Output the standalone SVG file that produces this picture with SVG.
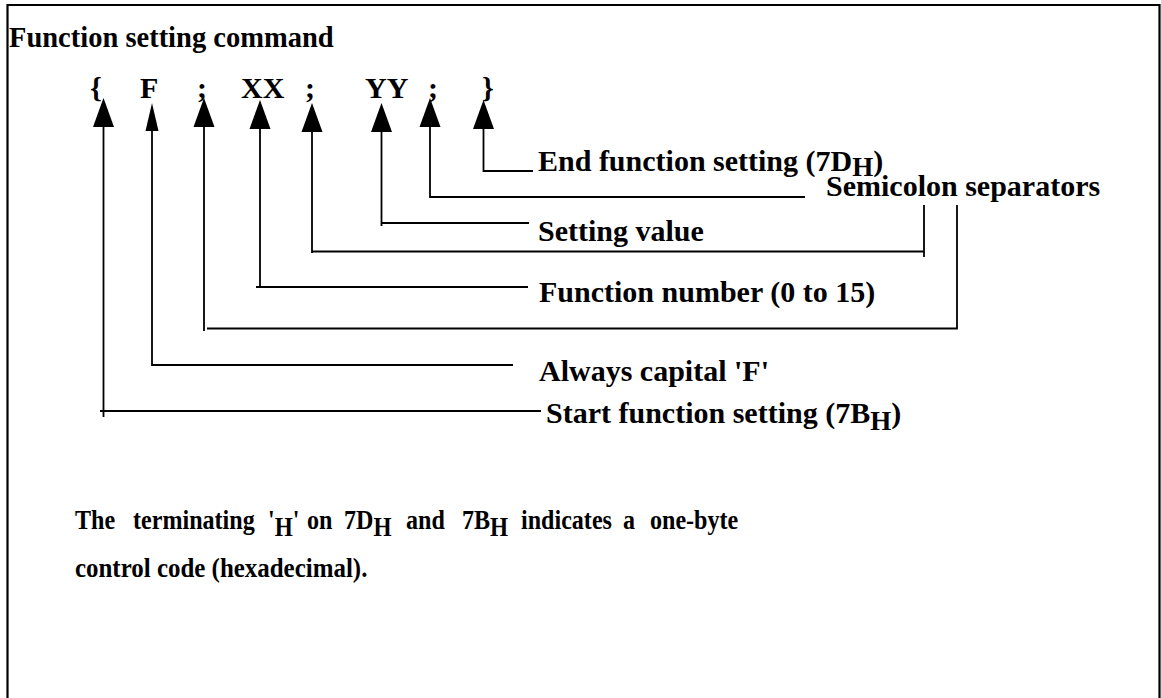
<svg xmlns="http://www.w3.org/2000/svg" xmlns:xlink="http://www.w3.org/1999/xlink" width="1161" height="698" viewBox="0 0 1161 698">
  <style>
    .t { font-family: "Liberation Serif", "Times New Roman", serif; font-weight: bold; font-size: 30px; fill: #000; }
    .title { font-family: "Liberation Serif", "Times New Roman", serif; font-weight: bold; font-size: 28.5px; fill: #000; }
    .p { font-family: "Liberation Serif", "Times New Roman", serif; font-weight: bold; font-size: 28px; fill: #000; }
    .cmd { font-family: "Liberation Serif", "Times New Roman", serif; font-weight: bold; font-size: 30px; fill: #000; }
    .sub { font-size: 27px; }
    .ln { fill: none; stroke: #000; stroke-width: 1.8; }
    .frame { fill: none; stroke: #000; stroke-width: 2.2; }
  </style>
  <defs>
    <path id="head" d="M0,0 L10.5,29 L-10.5,29 Z" fill="#000"/>
    <path id="headNarrow" d="M0,0 L6.5,28 L-6.5,28 Z" fill="#000"/>
  </defs>

  <rect width="1161" height="698" fill="#fff"/>
  <!-- page frame (open at the bottom) -->
  <path class="frame" d="M7.5,698 V5 H1159.5 V698"/>

  <g id="title">
    <text class="title" x="9" y="47">Function setting command</text>
  </g>

  <!-- command syntax characters -->
  <g id="command">
    <text class="cmd" x="90" y="98">{</text>
    <text class="cmd" x="140" y="98">F</text>
    <text class="cmd" x="197" y="98">;</text>
    <text class="cmd" x="241" y="98">XX</text>
    <text class="cmd" x="305" y="98">;</text>
    <text class="cmd" x="365" y="98">YY</text>
    <text class="cmd" x="428" y="98">;</text>
    <text class="cmd" x="482" y="98">}</text>
  </g>

  <!-- leader lines from each character to its label -->
  <g id="connectors">
    <use xlink:href="#head" x="103.5" y="98"/>
    <use xlink:href="#headNarrow" x="152" y="103"/>
    <use xlink:href="#head" x="204" y="98"/>
    <use xlink:href="#head" x="260" y="100"/>
    <use xlink:href="#head" x="312" y="103"/>
    <use xlink:href="#head" x="381.5" y="103"/>
    <use xlink:href="#head" x="430" y="98"/>
    <use xlink:href="#head" x="483.5" y="100"/>

    <path class="ln" d="M103.5,126 V417 M100,411 H541"/>
    <path class="ln" d="M152,130 V365 H513"/>
    <path class="ln" d="M204,126 V331 M207,328.5 H957 V205"/>
    <path class="ln" d="M260,128 V287 M256,287 H528"/>
    <path class="ln" d="M312,131 V253 M312,251.5 H924 M924,205 V257"/>
    <path class="ln" d="M381.5,131 V226 M381.5,223 H529"/>
    <path class="ln" d="M430,126 V197 H805"/>
    <path class="ln" d="M483.5,128 V171 H533"/>
  </g>

  <g id="label-end">
    <text class="t" x="538" y="171">End function setting (7D<tspan class="sub" dy="5">H</tspan><tspan dy="-5">)</tspan></text>
  </g>
  <g id="label-semicolon">
    <text class="t" x="826" y="196">Semicolon separators</text>
  </g>
  <g id="label-value">
    <text class="t" x="538" y="241">Setting value</text>
  </g>
  <g id="label-number">
    <text class="t" x="539" y="302">Function number (0 to 15)</text>
  </g>
  <g id="label-f">
    <text class="t" x="539" y="381">Always capital 'F'</text>
  </g>
  <g id="label-start">
    <text class="t" x="546" y="423">Start function setting (7B<tspan class="sub" dy="7">H</tspan><tspan dy="-7">)</tspan></text>
  </g>

  <!-- explanatory note: narrow face, justified first line -->
  <g id="note" transform="scale(0.86,1)">
    <text class="p" x="87.2" y="529">The</text>
    <text class="p" x="154.7" y="529">terminating</text>
    <text class="p" x="311.6" y="529">'<tspan class="sub" dy="7">H</tspan><tspan dy="-7">'</tspan></text>
    <text class="p" x="357" y="529">on</text>
    <text class="p" x="400" y="529">7D<tspan class="sub" dy="7">H</tspan></text>
    <text class="p" x="472.1" y="529">and</text>
    <text class="p" x="537.2" y="529">7B<tspan class="sub" dy="7">H</tspan></text>
    <text class="p" x="605.8" y="529">indicates</text>
    <text class="p" x="724.4" y="529">a</text>
    <text class="p" x="755.8" y="529">one-byte</text>
    <text class="p" x="87.2" y="577" textLength="340" lengthAdjust="spacingAndGlyphs">control code (hexadecimal).</text>
  </g>
</svg>
